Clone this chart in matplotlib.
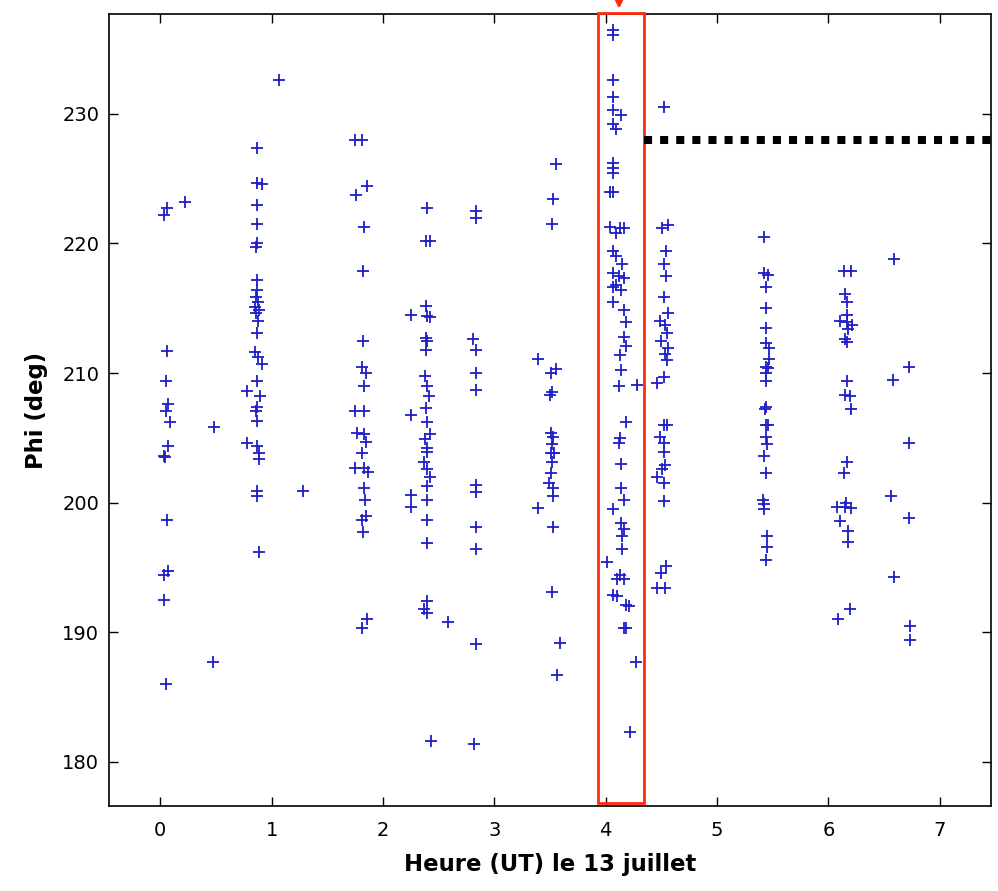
import numpy as np
import matplotlib.pyplot as plt
from matplotlib.patches import Rectangle

# passages (heure UT, phi en degres)
h0 = [0.03, 0.06, 0.22, 0.06, 0.05, 0.07, 0.05, 0.09, 0.07, 0.03, 0.04, 0.06, 0.03, 0.07, 0.03, 0.05, 0.47, 0.48]
p0 = [222.2, 222.7, 223.2, 211.7, 209.4, 207.6, 207.1, 206.2, 204.4, 203.6, 203.5, 198.7, 194.4, 194.7, 192.5, 186.0, 187.7, 205.8]

h1 = [1.07, 0.87, 0.87, 0.91, 0.87, 0.87, 0.86, 0.87, 0.87, 0.87, 0.86, 0.88, 0.85, 0.89, 0.86, 0.88, 0.87,
      0.85, 0.88, 0.91, 0.87, 0.78, 0.90, 0.87, 0.86, 0.87, 0.78, 0.87, 0.89, 0.89, 0.87, 0.87, 0.89, 1.28]
p1 = [232.6, 227.4, 224.7, 224.6, 223.0, 221.5, 219.7, 220.0, 217.2, 216.4, 215.9, 215.5, 215.1, 214.9, 214.6, 214.0, 213.1,
      211.6, 211.2, 210.7, 209.4, 208.6, 208.2, 207.4, 207.1, 206.3, 204.6, 204.4, 203.8, 203.4, 200.9, 200.5, 196.2, 200.9]

h2 = [1.75, 1.81, 1.86, 1.76, 1.83, 1.82, 1.82, 1.81, 1.85, 1.83, 1.75, 1.83, 1.77, 1.83, 1.85, 1.81, 1.75,
      1.83, 1.87, 1.83, 1.84, 1.85, 1.81, 1.82, 1.86, 1.81]
p2 = [228.0, 228.0, 224.4, 223.7, 221.3, 217.9, 212.5, 210.5, 210.0, 209.0, 207.1, 207.1, 205.4, 205.3, 204.7, 203.8, 202.7,
      202.7, 202.4, 201.1, 200.2, 199.0, 198.7, 197.7, 191.0, 190.3]

h3 = [2.40, 2.39, 2.42, 2.25, 2.39, 2.40, 2.42, 2.39, 2.40, 2.39, 2.38, 2.40, 2.41, 2.39, 2.25, 2.40, 2.42,
      2.38, 2.40, 2.40, 2.37, 2.40, 2.42, 2.40, 2.25, 2.25, 2.40, 2.40, 2.40, 2.40, 2.37, 2.40, 2.58, 2.43]
p3 = [222.7, 220.2, 220.2, 214.5, 215.2, 214.4, 214.3, 212.7, 212.5, 211.8, 209.8, 209.0, 208.2, 207.3, 206.8, 206.2, 205.3,
      204.9, 204.2, 203.9, 203.1, 202.6, 202.0, 201.3, 200.6, 199.7, 200.2, 198.7, 196.9, 192.4, 191.8, 191.5, 190.8, 181.6]

h4 = [2.84, 2.84, 2.81, 2.84, 2.84, 2.84, 2.84, 2.84, 2.84, 2.84, 2.84, 2.82]
p4 = [222.5, 222.0, 212.6, 211.8, 210.0, 208.7, 201.4, 200.8, 198.1, 196.4, 189.1, 181.4]

h5 = [3.55, 3.53, 3.52, 3.39, 3.51, 3.55, 3.50, 3.52, 3.51, 3.53, 3.52, 3.51, 3.54, 3.52, 3.51, 3.49,
      3.53, 3.53, 3.39, 3.53, 3.52, 3.59, 3.56]
p5 = [226.1, 223.4, 221.5, 211.1, 210.0, 210.3, 208.3, 208.5, 205.4, 205.1, 204.5, 203.8, 203.8, 203.1, 202.3, 201.5,
      201.1, 200.5, 199.6, 198.1, 193.1, 189.2, 186.7]

h6 = [4.07, 4.07, 4.07, 4.07, 4.07, 4.14, 4.07, 4.09, 4.07, 4.07, 4.07, 4.07, 4.04, 4.04, 4.13, 4.09, 4.16,
      4.07, 4.09, 4.15, 4.07, 4.12, 4.16, 4.09, 4.14, 4.07, 4.07, 4.16, 4.18, 4.16, 4.18, 4.13, 4.14, 4.12,
      4.28, 4.18, 4.13, 4.12, 4.14, 4.14, 4.16, 4.07, 4.14, 4.16, 4.15, 4.15, 4.01, 4.13, 4.10, 4.16, 4.07,
      4.10, 4.18, 4.21, 4.16, 4.18, 4.27, 4.22]
p6 = [236.5, 236.1, 232.6, 231.3, 230.3, 229.9, 229.2, 228.8, 226.2, 225.8, 225.4, 224.0, 224.0, 221.3, 221.2, 220.8, 221.2,
      219.4, 219.0, 218.4, 217.7, 217.5, 217.3, 216.8, 216.4, 216.6, 215.5, 214.9, 213.9, 212.8, 212.1, 211.4, 210.2, 209.0,
      209.1, 206.2, 205.0, 204.6, 203.0, 201.1, 200.2, 199.5, 198.4, 198.0, 197.4, 196.4, 195.4, 194.4, 194.1, 194.1, 192.9,
      192.8, 192.1, 192.0, 190.3, 190.3, 187.7, 182.3]

h7 = [4.52, 4.51, 4.56, 4.54, 4.52, 4.54, 4.52, 4.56, 4.49, 4.53, 4.55, 4.50, 4.56, 4.53, 4.55, 4.52,
      4.46, 4.52, 4.55, 4.49, 4.52, 4.52, 4.53, 4.51, 4.46, 4.52, 4.52, 4.54, 4.50, 4.46, 4.53]
p7 = [230.5, 221.2, 221.4, 219.4, 218.4, 217.5, 215.9, 214.6, 214.0, 213.7, 213.1, 212.5, 211.9, 211.5, 211.0, 209.7,
      209.2, 206.0, 206.0, 205.1, 204.6, 203.9, 202.9, 202.6, 202.0, 201.5, 200.1, 195.1, 194.6, 193.4, 193.4]

h8 = [5.42, 5.42, 5.46, 5.44, 5.44, 5.44, 5.44, 5.47, 5.47, 5.44, 5.46, 5.44, 5.44, 5.44, 5.43,
      5.44, 5.46, 5.44, 5.45, 5.42, 5.44, 5.41, 5.42, 5.42, 5.45, 5.45, 5.44]
p8 = [220.5, 217.7, 217.6, 216.6, 215.0, 213.5, 212.3, 211.9, 211.1, 210.5, 210.4, 210.0, 209.4, 207.4, 207.2,
      206.0, 206.0, 205.1, 204.5, 203.6, 202.3, 200.2, 199.9, 199.5, 197.4, 196.6, 195.6]

h9 = [6.14, 6.20, 6.15, 6.17, 6.17, 6.10, 6.17, 6.21, 6.18, 6.15, 6.17, 6.17, 6.15, 6.19, 6.20,
      6.17, 6.14, 6.08, 6.15, 6.20, 6.16, 6.10, 6.18, 6.18, 6.09, 6.19]
p9 = [217.9, 217.9, 216.1, 215.5, 214.5, 214.0, 213.9, 213.7, 213.4, 212.6, 212.4, 209.4, 208.3, 208.2, 207.2,
      203.1, 202.3, 199.7, 199.7, 199.6, 200.0, 198.6, 197.8, 197.0, 191.0, 191.8]

h10 = [6.59, 6.72, 6.58, 6.72, 6.56, 6.72, 6.59, 6.73, 6.73]
p10 = [218.8, 210.5, 209.5, 204.6, 200.5, 198.8, 194.3, 190.5, 189.4]

heure = np.concatenate([h0, h1, h2, h3, h4, h5, h6, h7, h8, h9, h10])
phi = np.concatenate([p0, p1, p2, p3, p4, p5, p6, p7, p8, p9, p10])

# zone encadree et seuil
x_box = [3.93, 4.34]
seuil = 228.0

fig = plt.figure(figsize=(9.98, 8.91), dpi=100)
ax = fig.add_axes([0.1092, 0.0954, 0.8838, 0.8889])

ax.plot(heure, phi, '+', color='#1f1fc8', markersize=9, markeredgewidth=1.3)

ax.set_xlim(-0.46, 7.46)
ax.set_ylim(176.6, 237.7)
ax.set_xticks(range(0, 8))
ax.set_yticks(range(180, 231, 10))

rouge = '#ff2a10'
ax.add_patch(Rectangle((x_box[0], 176.85), x_box[1] - x_box[0], 237.8 - 176.85,
                       fill=False, edgecolor=rouge, linewidth=2, clip_on=False, zorder=3))
ax.annotate('', xy=(4.12, 237.9), xytext=(4.12, 239.2),
            arrowprops=dict(arrowstyle='-|>', color=rouge, lw=2, mutation_scale=12),
            annotation_clip=False)
ax.plot([x_box[1], 7.6], [seuil, seuil], color='black', linewidth=5.8,
        linestyle=(0, (1, 1)), clip_on=False, zorder=4)

ax.tick_params(direction='in', length=6.5, width=1, top=True, right=True, labelsize=14)
ax.tick_params(axis='x', pad=11)
ax.tick_params(axis='y', pad=7)
for s in ax.spines.values():
    s.set_linewidth(1.2)

ax.set_xlabel('Heure (UT) le 13 juillet', fontsize=16.4, fontweight='bold', labelpad=9)
ax.set_ylabel('Phi (deg)', fontsize=16.4, fontweight='bold', labelpad=10)

fig.savefig('out.png', dpi=100)
